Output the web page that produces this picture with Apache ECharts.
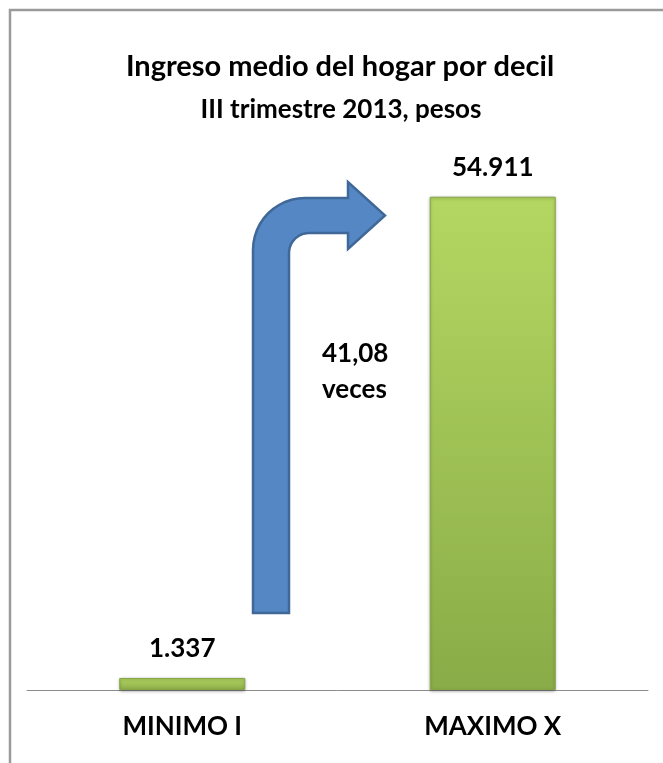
<!DOCTYPE html>
<html>
<head>
<meta charset="utf-8">
<script src="https://cdn.jsdelivr.net/npm/echarts@6/dist/echarts.min.js"></script>
<style>
    html, body { margin: 0; padding: 0; background: #fff; }
    #chart { width: 663px; height: 763px; }
</style>
</head>
<body>
<div id="chart"></div>
<script>
    var categories = ['MINIMO I', 'MAXIMO X'];
    var ingresos = [1337, 54911];
    var ratioText = ['41,08', 'veces'];
    var titleText = 'Ingreso medio del hogar por decil';
    var subtitleText = 'III trimestre 2013, pesos';

    var font = 'Lato, "Open Sans", sans-serif';

    // miles con punto, como en el original
    function fmt(v) {
        return String(v).replace(/\B(?=(\d{3})+(?!\d))/g, '.');
    }

    // flecha doblada (decoracion, no es dato)
    function arrowPoints() {
        var pts = [[253, 613], [253, 250]];
        var i, a;
        for (i = 1; i < 12; i++) {
            a = Math.PI + (Math.PI / 2) * i / 12;
            pts.push([305 + 52 * Math.cos(a), 250 + 52 * Math.sin(a)]);
        }
        pts.push([305, 198], [348, 198], [348, 182], [385, 215.5], [348, 249], [348, 233], [309, 233]);
        for (i = 1; i < 12; i++) {
            a = 1.5 * Math.PI - (Math.PI / 2) * i / 12;
            pts.push([309 + 20 * Math.cos(a), 253 + 20 * Math.sin(a)]);
        }
        pts.push([289, 253], [289, 613]);
        return pts;
    }

    var myChart = echarts.init(document.getElementById('chart'));
    var option = {
        animation: false,
        backgroundColor: '#fff',
        grid: { left: 27, right: 15, top: 151, bottom: 73, containLabel: false },
        xAxis: {
            type: 'category',
            data: categories,
            axisLine: { lineStyle: { color: '#8c8c8c', width: 1 } },
            axisTick: { show: false },
            axisLabel: {
                margin: 24,
                color: '#000',
                fontFamily: font,
                fontWeight: 'bold',
                fontSize: 26
            }
        },
        yAxis: {
            type: 'value',
            min: 0,
            max: 60000,
            show: false,
            splitLine: { show: false }
        },
        series: [
            {
                type: 'bar',
                data: ingresos,
                barWidth: 126,
                itemStyle: {
                    color: new echarts.graphic.LinearGradient(0, 0, 0, 1, [
                        { offset: 0, color: '#b4d762' },
                        { offset: 1, color: '#8aac48' }
                    ]),
                    borderColor: '#86a645',
                    borderWidth: 1,
                    shadowColor: 'rgba(0,0,0,0.3)',
                    shadowBlur: 3,
                    shadowOffsetY: 1
                },
                label: {
                    show: true,
                    position: 'top',
                    distance: 16,
                    color: '#000',
                    fontFamily: font,
                    fontWeight: 'bold',
                    fontSize: 26,
                    formatter: function (p) { return fmt(p.value); }
                }
            }
        ],
        graphic: [
            {
                type: 'rect',
                silent: true,
                shape: { x: 10, y: 10, width: 720, height: 820 },
                style: { fill: 'none', stroke: '#9a9a9a', lineWidth: 2.5 }
            },
            {
                type: 'text',
                silent: true,
                x: 340,
                y: 52,
                style: {
                    text: titleText,
                    font: 'bold 29px ' + font,
                    fill: '#000',
                    textAlign: 'center'
                }
            },
            {
                type: 'text',
                silent: true,
                x: 341,
                y: 97,
                style: {
                    text: subtitleText,
                    font: 'bold 26px ' + font,
                    fill: '#000',
                    textAlign: 'center'
                }
            },
            {
                type: 'polygon',
                silent: true,
                shape: { points: arrowPoints() },
                style: { fill: '#5687c5', stroke: '#3f6898', lineWidth: 2.5 }
            },
            {
                type: 'text',
                silent: true,
                left: 322,
                top: 336,
                style: {
                    text: ratioText.join('\n'),
                    font: 'bold 26px ' + font,
                    lineHeight: 36,
                    fill: '#000',
                    textAlign: 'left'
                }
            }
        ]
    };
    myChart.setOption(option);
</script>
</body>
</html>
